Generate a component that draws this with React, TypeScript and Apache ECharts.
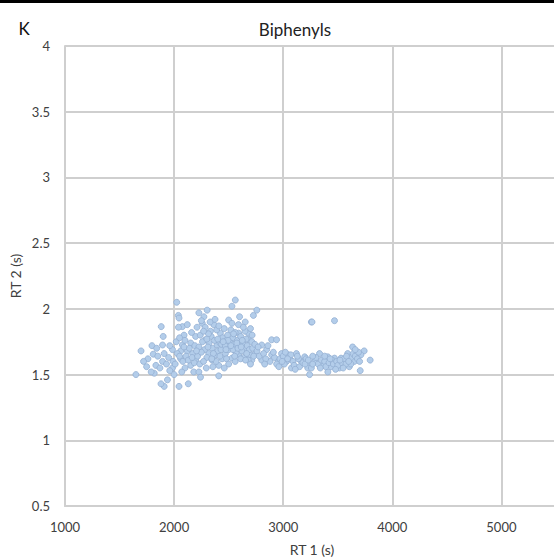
import React, { useEffect, useRef } from "react";
import * as echarts from "echarts";

// Tick values
const xTicks = [1000, 2000, 3000, 4000, 5000];
const yTicks = [0.5, 1, 1.5, 2, 2.5, 3, 3.5, 4];

// Points [RT1 (s), RT2 (s)], grouped by RT1 band
const band1600to2000: number[][] = [
  [1650, 1.5], [1697, 1.68], [1748, 1.56], [1797, 1.72], [1809, 1.655], [1818, 1.51], [1833, 1.57],
  [1882, 1.865], [1894, 1.725], [1894, 1.6], [1900, 1.79], [1909, 1.66], [1909, 1.41], [1939, 1.46],
  [1985, 1.69], [1985, 1.55], [2000, 1.5], [1760, 1.62], [1850, 1.64], [1870, 1.55], [1880, 1.43],
  [1950, 1.63], [1960, 1.72], [1930, 1.58], [1720, 1.6], [1790, 1.52], [1840, 1.7], [1960, 1.53], [1990, 1.6],
];
const band2000to2200: number[][] = [
  [2024, 2.05], [2039, 1.95], [2045, 1.93], [2076, 1.865], [2091, 1.8], [2061, 1.68], [2076, 1.725],
  [2152, 1.74], [2152, 1.57], [2045, 1.41], [2130, 1.43], [2121, 1.88], [2121, 1.68], [2197, 1.79],
  [2197, 1.61], [2060, 1.62], [2030, 1.66], [2020, 1.75], [2080, 1.6], [2100, 1.55], [2110, 1.64],
  [2140, 1.7], [2170, 1.66], [2180, 1.52], [2010, 1.58], [2050, 1.78], [2090, 1.71], [2160, 1.82],
  [2190, 1.72], [2070, 1.52], [2040, 1.86], [2130, 1.61], [2185, 1.59], [2050, 1.64], [2100, 1.76], [2165, 1.63],
];
const band2200to2450: number[][] = [
  [2227, 1.97], [2273, 1.94], [2258, 1.89], [2303, 1.99], [2333, 1.83], [2364, 1.88], [2288, 1.765],
  [2227, 1.71], [2318, 1.66], [2348, 1.61], [2227, 1.52], [2242, 1.48], [2394, 1.725], [2409, 1.57],
  [2409, 1.49], [2424, 1.815], [2210, 1.86], [2240, 1.8], [2260, 1.75], [2280, 1.69], [2300, 1.63],
  [2320, 1.74], [2340, 1.79], [2350, 1.7], [2370, 1.76], [2380, 1.65], [2390, 1.84], [2400, 1.68],
  [2420, 1.74], [2440, 1.62], [2445, 1.78], [2215, 1.64], [2235, 1.58], [2250, 1.67], [2270, 1.6],
  [2295, 1.55], [2310, 1.71], [2330, 1.9], [2355, 1.56], [2375, 1.92], [2410, 1.87], [2430, 1.69],
  [2250, 1.91], [2285, 1.86], [2315, 1.81], [2360, 1.66], [2385, 1.6], [2420, 1.64], [2205, 1.68],
  [2300, 1.77], [2345, 1.62], [2400, 1.77], [2435, 1.73], [2270, 1.83],
];
const band2450to2750: number[][] = [
  [2561, 2.067], [2530, 2.02], [2500, 1.915], [2530, 1.89], [2652, 1.9], [2591, 1.815], [2485, 1.765],
  [2682, 1.765], [2561, 1.71], [2652, 1.7], [2470, 1.66], [2591, 1.65], [2697, 1.65], [2530, 1.625],
  [2682, 1.815], [2712, 1.75], [2742, 1.66], [2712, 1.61], [2727, 1.95], [2758, 1.99], [2460, 1.85],
  [2470, 1.72], [2490, 1.8], [2500, 1.69], [2510, 1.75], [2520, 1.84], [2540, 1.78], [2550, 1.73],
  [2560, 1.82], [2570, 1.67], [2580, 1.76], [2600, 1.72], [2610, 1.79], [2620, 1.68], [2630, 1.74],
  [2640, 1.63], [2660, 1.77], [2670, 1.72], [2690, 1.69], [2700, 1.85], [2720, 1.7], [2740, 1.73],
  [2480, 1.62], [2500, 1.58], [2540, 1.69], [2560, 1.6], [2590, 1.88], [2610, 1.62], [2650, 1.83],
  [2680, 1.61], [2700, 1.58], [2730, 1.64], [2460, 1.55], [2520, 1.72], [2575, 1.74], [2625, 1.76],
  [2665, 1.66], [2715, 1.8], [2495, 1.76], [2545, 1.81], [2600, 1.94], [2655, 1.61], [2475, 1.69],
  [2585, 1.7], [2635, 1.86], [2555, 1.64], [2450, 1.75], [2615, 1.71],
];
const band2750to3250: number[][] = [
  [2803, 1.725], [2894, 1.765], [2939, 1.765], [2848, 1.69], [2894, 1.65], [2985, 1.66], [3045, 1.65],
  [3121, 1.66], [3197, 1.635], [2803, 1.61], [2879, 1.6], [2955, 1.61], [3030, 1.6], [3076, 1.55],
  [3167, 1.6], [3242, 1.57], [3242, 1.5], [3258, 1.9], [2760, 1.68], [2780, 1.64], [2820, 1.66],
  [2840, 1.62], [2860, 1.72], [2920, 1.63], [2940, 1.58], [2970, 1.62], [3000, 1.64], [3010, 1.58],
  [3060, 1.62], [3090, 1.6], [3100, 1.57], [3140, 1.62], [3150, 1.56], [3180, 1.59], [3210, 1.62],
  [3225, 1.55], [2770, 1.71], [2830, 1.58], [2910, 1.67], [3020, 1.67], [3070, 1.65], [3130, 1.64],
  [3200, 1.58], [2960, 1.56], [3110, 1.54], [3230, 1.61], [3040, 1.62], [2990, 1.6],
];
const band3250to3800: number[][] = [
  [3264, 1.9], [3470, 1.91], [3636, 1.71], [3742, 1.68], [3797, 1.61], [3712, 1.65], [3591, 1.66],
  [3530, 1.625], [3652, 1.6], [3333, 1.66], [3409, 1.635], [3470, 1.625], [3288, 1.6], [3364, 1.57],
  [3439, 1.56], [3515, 1.55], [3606, 1.56], [3258, 1.55], [3409, 1.52], [3706, 1.53], [3300, 1.63],
  [3320, 1.58], [3350, 1.61], [3380, 1.6], [3390, 1.56], [3420, 1.59], [3450, 1.61], [3460, 1.58],
  [3490, 1.6], [3500, 1.57], [3540, 1.59], [3560, 1.62], [3575, 1.58], [3620, 1.63], [3640, 1.66],
  [3660, 1.64], [3680, 1.62], [3690, 1.67], [3620, 1.58], [3550, 1.55], [3480, 1.54], [3270, 1.58],
  [3340, 1.55], [3430, 1.62], [3520, 1.61], [3580, 1.64], [3660, 1.69], [3700, 1.6], [3600, 1.6],
  [3380, 1.64], [3270, 1.64],
];

const FONT = "Lato, 'Open Sans', sans-serif";

export default function App() {
  const ref = useRef<HTMLDivElement>(null);
  useEffect(() => {
    if (!ref.current) return;
    const chart = echarts.init(ref.current, undefined, { renderer: "svg" });
    const points = [
      ...band1600to2000,
      ...band2000to2200,
      ...band2200to2450,
      ...band2450to2750,
      ...band2750to3250,
      ...band3250to3800,
    ];
    chart.setOption({
      animation: false,
      backgroundColor: "#ffffff",
      grid: { left: 65, top: 46, right: -4, bottom: 51, containLabel: false },
      xAxis: {
        type: "value",
        min: 1000,
        max: 5482,
        interval: 1000,
        axisLine: { show: true, lineStyle: { color: "#cfcfcf", width: 2 } },
        axisTick: { show: false },
        splitLine: { show: true, showMaxLine: false, lineStyle: { color: "#cfcfcf", width: 2 } },
        axisLabel: {
          color: "#404040",
          fontFamily: FONT,
          fontSize: 13,
          margin: 14,
          showMaxLabel: false,
          formatter: (v: number) => (xTicks.includes(v) ? String(v) : ""),
        },
      },
      yAxis: {
        type: "value",
        min: 0.5,
        max: 4,
        interval: 0.5,
        axisLine: { show: true, lineStyle: { color: "#cfcfcf", width: 2 } },
        axisTick: { show: false },
        splitLine: { show: true, lineStyle: { color: "#cfcfcf", width: 2 } },
        axisLabel: {
          color: "#404040",
          fontFamily: FONT,
          fontSize: 13,
          margin: 15,
          formatter: (v: number) => (yTicks.includes(v) ? String(v) : ""),
        },
      },
      graphic: [
        { type: "rect", left: 0, top: 0, shape: { width: 554, height: 3 }, style: { fill: "#000000" } },
        {
          type: "text",
          x: 24,
          y: 28,
          style: {
            text: "K",
            fill: "#111111",
            font: `17px ${FONT}`,
            textAlign: "center",
            textVerticalAlign: "middle",
          },
        },
        {
          type: "text",
          x: 295,
          y: 29,
          style: {
            text: "Biphenyls",
            fill: "#222222",
            font: `17px ${FONT}`,
            textAlign: "center",
            textVerticalAlign: "middle",
          },
        },
        {
          type: "text",
          x: 312,
          y: 549,
          style: {
            text: "RT 1 (s)",
            fill: "#404040",
            font: `14px ${FONT}`,
            textAlign: "center",
            textVerticalAlign: "middle",
          },
        },
        {
          type: "text",
          x: 15,
          y: 276,
          rotation: Math.PI / 2,
          style: {
            text: "RT 2 (s)",
            fill: "#404040",
            font: `14px ${FONT}`,
            textAlign: "center",
            textVerticalAlign: "middle",
          },
        },
      ],
      series: [
        {
          type: "scatter",
          data: points,
          symbol: "circle",
          symbolSize: 6,
          itemStyle: { color: "#b3cdea", borderColor: "#93afd2", borderWidth: 0.8, opacity: 1 },
        },
      ],
    });
    return () => chart.dispose();
  }, []);
  return <div ref={ref} style={{ width: 554, height: 557, position: "absolute", left: 0, top: 0 }} />;
}
